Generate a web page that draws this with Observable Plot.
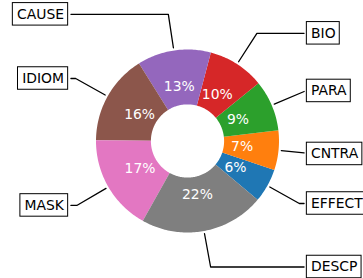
<!DOCTYPE html>
<html><head><meta charset="utf-8">
<script src="https://cdn.jsdelivr.net/npm/d3@7"></script>
<script src="https://cdn.jsdelivr.net/npm/@observablehq/plot@0.6"></script>
<style>body{margin:0;background:#fff} svg{display:block}</style>
</head><body><div id="chart"></div>
<script>
// ---- data ----
const labels = ["EFFECT","CNTRA","PARA","BIO","CAUSE","IDIOM","MASK","DESCP"];
const values = [6,7,9,10,13,16,17,22];
const pctLabels = ["6%","7%","9%","10%","13%","16%","17%","22%"];
const colors = ["#1f77b4","#ff7f0e","#2ca02c","#d62728","#9467bd","#8c564b","#e377c2","#7f7f7f"];

// ---- layout ----
const W = 363, H = 278, CX = 187, CY = 140.5, R = 91.5;
const START = -40, INNER = 0.4, FS = 13.9, PAD = 0.3 * FS, BOXH = 22.5, SHRINK = 2.8;
const FONT = "DejaVu Sans";

const total = d3.sum(values);
let acc = START;
const slices = labels.map((label, i) => {
  const a1 = acc, a2 = acc + values[i] / total * 360; acc = a2;
  return {label, pct: pctLabels[i], a1, a2, mid: (a1 + a2) / 2};
});
const rad = d => d * Math.PI / 180;

// wedge polygons (unit circle coordinates)
const wedgePts = [];
for (const s of slices) {
  const n = Math.max(2, Math.ceil(s.a2 - s.a1));
  for (let k = 0; k <= n; k++) { const a = rad(s.a1 + (s.a2 - s.a1) * k / n); wedgePts.push({label: s.label, x: Math.cos(a), y: Math.sin(a)}); }
  for (let k = n; k >= 0; k--) { const a = rad(s.a1 + (s.a2 - s.a1) * k / n); wedgePts.push({label: s.label, x: INNER * Math.cos(a), y: INNER * Math.sin(a)}); }
}

// percent labels
const pcts = slices.map(s => ({text: s.pct, x: 0.6 * Math.cos(rad(s.mid)), y: 0.6 * Math.sin(rad(s.mid))}));

// annotation boxes
const ctx = document.createElement("canvas").getContext("2d");
ctx.font = `${FS}px "${FONT}"`;
const boxes = slices.map(s => {
  const c = Math.cos(rad(s.mid)), sn = Math.sin(rad(s.mid));
  const sgn = Math.sign(c);
  const tx = 1.35 * sgn, ty = 1.4 * sn;
  const tw = ctx.measureText(s.label).width / R;
  const p = PAD / R;
  const x1 = sgn > 0 ? tx - p : tx - tw - p;
  const x2 = sgn > 0 ? tx + tw + p : tx + p;
  return {label: s.label, x1, x2, y1: ty - BOXH / 2 / R, y2: ty + BOXH / 2 / R, cx: (x1 + x2) / 2, ty, c, sn};
});

// leader lines: text center -> corner (angle style) -> wedge edge, clipped by box, shrunk
function exitParam(p0, p1, b) {
  let t = 1; const dx = p1[0] - p0[0], dy = p1[1] - p0[1];
  if (dx > 0) t = Math.min(t, (b.x2 - p0[0]) / dx); else if (dx < 0) t = Math.min(t, (b.x1 - p0[0]) / dx);
  if (dy > 0) t = Math.min(t, (b.y2 - p0[1]) / dy); else if (dy < 0) t = Math.min(t, (b.y1 - p0[1]) / dy);
  return t;
}
function trimStart(poly, d) {
  while (poly.length > 1) {
    const [a, b] = poly; const L = Math.hypot(b[0] - a[0], b[1] - a[1]);
    if (L > d) { poly[0] = [a[0] + (b[0] - a[0]) * d / L, a[1] + (b[1] - a[1]) * d / L]; return poly; }
    d -= L; poly.shift();
  }
  return poly;
}
const leaderPts = [];
for (const b of boxes) {
  const A = [b.cx, b.ty], C = [1.4 * b.c, 1.4 * b.sn], P = [b.c, b.sn];
  const pts = [A, C, P];
  let poly = null;
  for (let i = 0; i < pts.length - 1; i++) {
    const t = exitParam(pts[i], pts[i + 1], b);
    if (t < 1) {
      const s = [pts[i][0] + (pts[i + 1][0] - pts[i][0]) * t, pts[i][1] + (pts[i + 1][1] - pts[i][1]) * t];
      poly = [s, ...pts.slice(i + 1)];
      break;
    }
  }
  if (!poly) continue;
  poly = poly.filter((p, i) => i === 0 || Math.hypot(p[0] - poly[i - 1][0], p[1] - poly[i - 1][1]) > 1e-9);
  poly = trimStart(poly, SHRINK / R);
  poly = trimStart(poly.reverse(), SHRINK / R).reverse();
  for (const p of poly) leaderPts.push({label: b.label, x: p[0], y: p[1]});
}

const chart = Plot.plot({
  width: W, height: H, margin: 0,
  style: {fontFamily: FONT, fontSize: FS + "px", background: "#fff"},
  x: {domain: [-CX / R, (W - CX) / R], axis: null},
  y: {domain: [-(H - CY) / R, CY / R], axis: null},
  color: {domain: labels, range: colors},
  marks: [
    Plot.line(leaderPts, {x: "x", y: "y", z: "label", stroke: "black", strokeWidth: 1.3, curve: "linear"}),
    Plot.rect(boxes, {x1: "x1", x2: "x2", y1: "y1", y2: "y2", fill: "white", stroke: "black", strokeWidth: 1}),
    Plot.text(boxes, {x: "cx", y: "ty", text: "label", fill: "black", fontSize: FS, textAnchor: "middle"}),
    Plot.line(wedgePts, {x: "x", y: "y", z: "label", fill: "label", stroke: "none", curve: "linear-closed"}),
    Plot.text(pcts, {x: "x", y: "y", text: "text", fill: "white", fontSize: FS, textAnchor: "middle"})
  ]
});
document.getElementById("chart").appendChild(chart);
</script>
</body></html>
